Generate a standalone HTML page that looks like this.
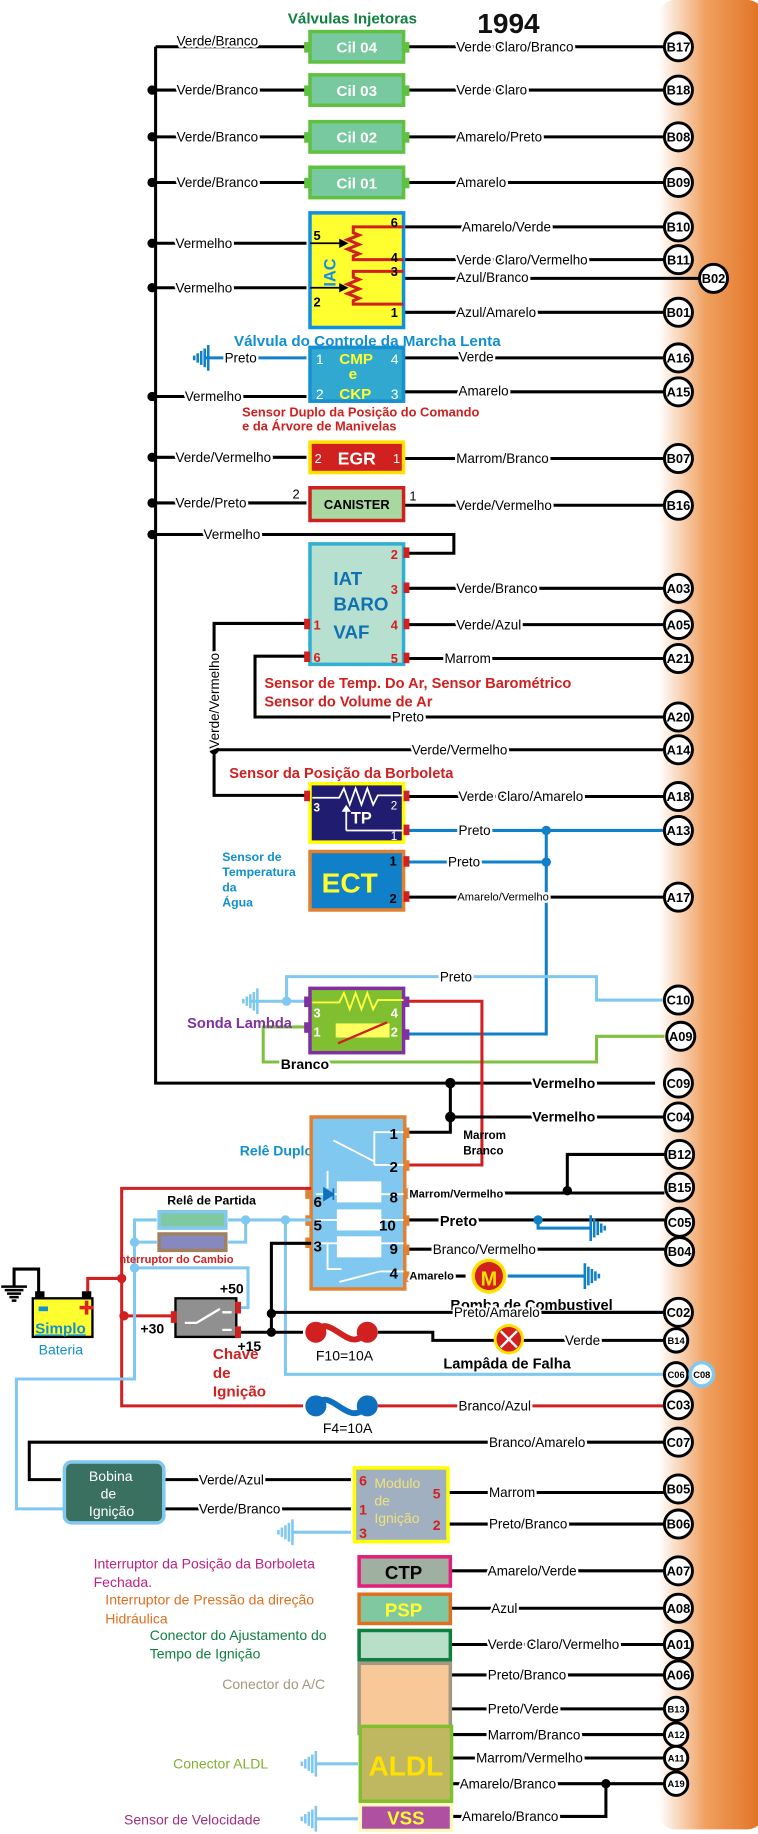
<!DOCTYPE html>
<html><head><meta charset="utf-8"><style>
html,body{margin:0;padding:0;background:#fff;width:758px;height:1834px;overflow:hidden}
svg{display:block}
text{font-family:"Liberation Sans",sans-serif}
.l{font-size:11.5px;fill:#000;paint-order:stroke;stroke:#fff;stroke-width:4px;stroke-linejoin:round}
.c{font-size:11px;font-weight:bold;text-anchor:middle}
.w{fill:none;stroke:#000;stroke-width:2.6}
.lb{fill:none;stroke:#80c8f0;stroke-width:2.6}
.db{fill:none;stroke:#1080c8;stroke-width:2.6}
.rd{fill:none;stroke:#d02020;stroke-width:2.6}
.pn{font-size:11px;font-weight:bold}
</style></head><body>
<svg width="758" height="1834" viewBox="0 0 648 1568" xmlns="http://www.w3.org/2000/svg">
<defs>
<linearGradient id="og" x1="0" x2="1" y1="0" y2="0">
<stop offset="0" stop-color="#fff"/><stop offset="0.45" stop-color="#f0a060"/><stop offset="1" stop-color="#e07020"/></linearGradient>
<g id="gnd"><path d="M0 -11V11M3 -8V8M6 -6V6M9 -4V4M12 -2V2" stroke-width="2.2" fill="none"/></g>
</defs>
<rect x="0" y="0" width="648" height="1568" fill="#fff"/>
<rect x="563" y="0" width="90" height="1564" rx="14" fill="url(#og)"/>

<!-- Titles -->
<text x="246" y="20" font-size="13" font-weight="bold" fill="#108040">Válvulas Injetoras</text>
<text x="408" y="28" font-size="24" font-weight="bold" fill="#111">1994</text>

<!-- left bus -->
<path class="w" d="M133 40V926H560"/>
<path class="w" d="M133 40H262"/>
<g fill="#000">
<circle cx="130" cy="77" r="4"/><circle cx="130" cy="117" r="4"/><circle cx="130" cy="156" r="4"/>
<circle cx="130" cy="208" r="4"/><circle cx="130" cy="246" r="4"/><circle cx="130" cy="339" r="4"/>
<circle cx="130" cy="391" r="4"/><circle cx="130" cy="430" r="4"/><circle cx="130" cy="457" r="4"/>
</g>

<!-- Cil boxes -->
<g>
<path class="w" d="M133 77H262M133 117H262M133 156H262"/>
<path class="w" d="M345 40H568M345 77H568M345 117H568M345 156H568"/>
<g fill="#78c8a0" stroke="#60c040" stroke-width="3">
<rect x="265" y="27" width="80" height="26"/><rect x="265" y="64" width="80" height="26"/>
<rect x="265" y="104" width="80" height="26"/><rect x="265" y="143" width="80" height="26"/></g>
<g fill="#60c040"><rect x="260" y="36" width="5" height="9"/><rect x="345" y="36" width="5" height="9"/>
<rect x="260" y="73" width="5" height="9"/><rect x="345" y="73" width="5" height="9"/>
<rect x="260" y="113" width="5" height="9"/><rect x="345" y="113" width="5" height="9"/>
<rect x="260" y="152" width="5" height="9"/><rect x="345" y="152" width="5" height="9"/></g>
<g fill="#fff" font-size="13" font-weight="bold" text-anchor="middle">
<text x="305" y="45">Cil 04</text><text x="305" y="82">Cil 03</text><text x="305" y="122">Cil 02</text><text x="305" y="161">Cil 01</text></g>
<text class="l" x="151" y="39">Verde/Branco</text><text class="l" x="151" y="81">Verde/Branco</text>
<text class="l" x="151" y="121">Verde/Branco</text><text class="l" x="151" y="160">Verde/Branco</text>
<text class="l" x="390" y="44">Verde Claro/Branco</text><text class="l" x="390" y="81">Verde Claro</text>
<text class="l" x="390" y="121">Amarelo/Preto</text><text class="l" x="390" y="160">Amarelo</text>
</g>

<!-- IAC -->
<path class="w" d="M133 208H262M133 246H262M345 194H568M345 222H568M345 238H598M345 267H568"/>
<rect x="265" y="182" width="80" height="98" fill="#ffff30" stroke="#1090e0" stroke-width="3"/>
<path class="rd" d="M345 194H302V199l5 2-10 4 10 4-10 4 10 4-5 2V222H345M345 232H302V237l5 2-10 4 10 4-10 4 10 4-5 2V260H345"/>
<path d="M265 208H292M265 246H292" stroke="#000" stroke-width="1.5"/>
<path d="M290 204l8 4-8 4zM290 242l8 4-8 4z" fill="#000"/>
<text transform="translate(287 245) rotate(-90)" font-size="14" font-weight="bold" fill="#1090e0">IAC</text>
<g class="pn"><text x="268" y="205">5</text><text x="268" y="262">2</text><text x="334" y="194">6</text><text x="334" y="224">4</text><text x="334" y="236">3</text><text x="334" y="271">1</text></g>
<text class="l" x="150" y="212">Vermelho</text><text class="l" x="150" y="250">Vermelho</text>
<text class="l" x="395" y="198">Amarelo/Verde</text><text class="l" x="390" y="226">Verde Claro/Vermelho</text>
<text class="l" x="390" y="241">Azul/Branco</text><text class="l" x="390" y="271">Azul/Amarelo</text>
<text x="200" y="296" font-size="13" font-weight="bold" fill="#1090d0">Válvula do Controle da Marcha Lenta</text>

<!-- CMP -->
<path class="db" d="M175 306H262"/><g stroke="#1080c8"><use href="#gnd" transform="translate(178 306) scale(-1 1)"/></g>
<path class="w" d="M133 339H262M345 306H568M345 335H568"/>
<rect x="265" y="297" width="80" height="46" fill="#30a8d0" stroke="#1890d0" stroke-width="3"/>
<g font-size="13" font-weight="bold" fill="#ffff30"><text x="290" y="311">CMP</text><text x="298" y="324">e</text><text x="290" y="341">CKP</text></g>
<g font-size="12" fill="#fff"><text x="270" y="311">1</text><text x="270" y="341">2</text><text x="334" y="311">4</text><text x="334" y="341">3</text></g>
<text class="l" x="192" y="310">Preto</text><text class="l" x="158" y="343">Vermelho</text>
<text class="l" x="392" y="309">Verde</text><text class="l" x="392" y="338">Amarelo</text>
<text x="207" y="356" font-size="11" font-weight="bold" fill="#d02020">Sensor Duplo da Posição do Comando</text>
<text x="207" y="368" font-size="11" font-weight="bold" fill="#d02020">e da Árvore de Manivelas</text>

<!-- EGR / CANISTER -->
<path class="w" d="M133 391H262M345 392H568M133 430H262M345 432H568"/>
<rect x="265" y="378" width="80" height="26" fill="#d02020" stroke="#ffe000" stroke-width="3"/>
<text x="305" y="397" text-anchor="middle" font-size="15" font-weight="bold" fill="#fff">EGR</text>
<text x="269" y="396" font-size="11" fill="#fff">2</text><text x="336" y="396" font-size="11" fill="#fff">1</text>
<rect x="265" y="417" width="80" height="28" fill="#a8d8a0" stroke="#d02020" stroke-width="3"/>
<text x="305" y="435" text-anchor="middle" font-size="11" font-weight="bold">CANISTER</text>
<text x="250" y="426" font-size="11">2</text><text x="350" y="428" font-size="11">1</text>
<text class="l" x="150" y="395">Verde/Vermelho</text><text class="l" x="390" y="396">Marrom/Branco</text>
<text class="l" x="150" y="434">Verde/Preto</text><text class="l" x="390" y="436">Verde/Vermelho</text>

<!-- IAT -->
<path class="w" d="M133 457H388V473H345M345 503H568M345 534H568M345 563H568M265 561H218V613H568M265 533H183V680H262M183 641H568"/>
<circle cx="183" cy="641" r="4"/>
<rect x="265" y="465" width="80" height="103" fill="#b8e0d0" stroke="#30b0d0" stroke-width="3"/>
<g font-size="16" font-weight="bold" fill="#1070b0"><text x="285" y="500">IAT</text><text x="285" y="522">BARO</text><text x="285" y="546">VAF</text></g>
<g fill="#d02020"><rect x="345" y="468" width="5" height="9"/><rect x="345" y="498" width="5" height="9"/><rect x="345" y="529" width="5" height="9"/><rect x="345" y="558" width="5" height="9"/><rect x="260" y="529" width="5" height="9"/><rect x="260" y="557" width="5" height="9"/></g>
<g class="pn" fill="#d02020"><text x="334" y="478">2</text><text x="334" y="508">3</text><text x="334" y="538">4</text><text x="334" y="567">5</text><text x="268" y="538">1</text><text x="268" y="566">6</text></g>
<text class="l" x="174" y="461">Vermelho</text>
<text class="l" x="390" y="507">Verde/Branco</text><text class="l" x="390" y="538">Verde/Azul</text><text class="l" x="380" y="567">Marrom</text>
<text class="l" x="335" y="617">Preto</text><text class="l" x="352" y="645">Verde/Vermelho</text>
<text transform="translate(187 640) rotate(-90)" font-size="11.5" style="paint-order:stroke;stroke:#fff;stroke-width:4px">Verde/Vermelho</text>
<text x="226" y="588" font-size="12.5" font-weight="bold" fill="#d02020">Sensor de Temp. Do Ar, Sensor Barométrico</text>
<text x="226" y="604" font-size="12.5" font-weight="bold" fill="#d02020">Sensor do Volume de Ar</text>
<text x="196" y="665" font-size="12.5" font-weight="bold" fill="#d02020">Sensor da Posição da Borboleta</text>

<!-- TP / ECT -->
<path class="w" d="M345 681H568M345 767H568"/>
<path class="db" d="M345 710H568M345 737H467M467 707V884H345"/>
<circle cx="467" cy="710" r="4" fill="#1080c8"/><circle cx="467" cy="737" r="4" fill="#1080c8"/>
<rect x="265" y="670" width="80" height="50" fill="#201c70" stroke="#ffff00" stroke-width="3"/>
<path d="M267 682H290l4-8 5 14 5-14 5 14 5-14 5 14 4-8H345M296 710V692M345 710H296" stroke="#fff" stroke-width="1.5" fill="none"/>
<path d="M292 694l4-6 4 6z" fill="#fff"/>
<text x="300" y="704" font-size="14" font-weight="bold" fill="#fff">TP</text>
<g fill="#fff" font-size="10"><text x="268" y="694" font-weight="bold">3</text><text x="334" y="692">2</text><text x="334" y="718">1</text></g>
<g fill="#d02020"><rect x="260" y="676" width="5" height="9"/><rect x="345" y="676" width="5" height="9"/><rect x="345" y="705" width="5" height="9"/></g>
<rect x="265" y="728" width="80" height="50" fill="#1080c8" stroke="#e08030" stroke-width="3"/>
<text x="275" y="763" font-size="24" font-weight="bold" fill="#ffff30">ECT</text>
<g font-size="11" font-weight="bold"><text x="333" y="740">1</text><text x="333" y="772">2</text></g>
<g fill="#d02020"><rect x="345" y="732" width="5" height="9"/><rect x="345" y="762" width="5" height="9"/></g>
<text class="l" x="392" y="714">Preto</text><text class="l" x="383" y="741">Preto</text><text class="l" x="391" y="770" style="font-size:9.5px">Amarelo/Vermelho</text>
<text class="l" x="392" y="685">Verde Claro/Amarelo</text>
<g font-size="10.5" font-weight="bold" fill="#1090d0"><text x="190" y="736">Sensor de</text><text x="190" y="749">Temperatura</text><text x="190" y="762">da</text><text x="190" y="775">Água</text></g>

<!-- Lambda -->
<path class="lb" d="M215 856H262M245 856V835H510V855H568"/>
<circle cx="245" cy="856" r="4" fill="#80c8f0"/>
<g stroke="#80c8f0"><use href="#gnd" transform="translate(220 856) scale(-1 1)"/></g>
<path d="M262 878H225V908H510V886H568" fill="none" stroke="#80c040" stroke-width="2.6"/>
<path class="rd" d="M345 856H412V996H345"/>
<rect x="265" y="845" width="80" height="55" fill="#80c030" stroke="#8030a0" stroke-width="3"/>
<path d="M267 857H290l4-8 5 14 5-14 5 14 5-14 5 14 4-8H345" stroke="#ffff40" stroke-width="1.6" fill="none"/>
<rect x="287" y="875" width="46" height="12" fill="#ffff60"/><path d="M289 892L331 874" stroke="#d02020" stroke-width="2"/>
<g fill="#fff" font-size="11" font-weight="bold"><text x="268" y="870">3</text><text x="268" y="886">1</text><text x="334" y="870">4</text><text x="334" y="886">2</text></g>
<g fill="#8030a0"><rect x="260" y="852" width="5" height="9"/><rect x="260" y="874" width="5" height="9"/><rect x="345" y="852" width="5" height="9"/><rect x="345" y="880" width="5" height="9"/></g>
<text class="l" x="376" y="839">Preto</text>
<text class="l" x="240" y="914" style="font-weight:bold;font-size:12px">Branco</text>
<text x="160" y="879" font-size="12.5" font-weight="bold" fill="#8030a0">Sonda Lambda</text>

<!-- C09 / C04 -->
<path class="w" d="M385 926V968H345M385 955H568"/>
<circle cx="385" cy="926" r="4.5"/><circle cx="385" cy="955" r="4.5"/>
<text class="l" x="455" y="930" style="font-weight:bold;font-size:12px">Vermelho</text>
<text class="l" x="455" y="959" style="font-weight:bold;font-size:12px">Vermelho</text>
<g font-size="10" font-weight="bold"><text x="396" y="974">Marrom</text><text x="396" y="987">Branco</text></g>

<!-- Relay -->
<text x="205" y="988" font-size="12" font-weight="bold" fill="#1090d0">Relê Duplo</text>
<path class="w" d="M345 1020H568M485 1020V987H568M345 1043H568M345 1068H568M345 1091H398M432 1122H568"/>
<circle cx="485" cy="1018" r="4"/>
<path class="db" d="M460 1043V1050H505M434 1091H500"/>
<circle cx="460" cy="1043" r="4" fill="#1080c8"/>
<g stroke="#1080c8"><use href="#gnd" transform="translate(505 1050)"/><use href="#gnd" transform="translate(500 1091)"/></g>
<rect x="266" y="955" width="80" height="147" fill="#80c8f0" stroke="#e08030" stroke-width="3"/>
<g fill="#fff"><rect x="288" y="1010" width="38" height="18"/><rect x="288" y="1034" width="38" height="18"/><rect x="288" y="1057" width="38" height="18"/></g>
<path d="M270 1021H345M270 1043H345M270 1063H345M320 996V968H345M320 996H345M285 975L320 993M280 1001V1016M280 1063V1085H292M290 1096L325 1087H345" stroke="#fff" stroke-width="1.6" fill="none"/>
<path d="M277 1016l8 5-8 5zM285 1016V1026" fill="#1070c0" stroke="#1070c0" stroke-width="1.5"/>
<g fill="#e08030"><rect x="345" y="964" width="5" height="9"/><rect x="345" y="992" width="5" height="9"/><rect x="345" y="1016" width="5" height="9"/><rect x="345" y="1039" width="5" height="9"/><rect x="345" y="1064" width="5" height="9"/><rect x="345" y="1087" width="5" height="9"/><rect x="261" y="1016" width="5" height="9"/><rect x="261" y="1039" width="5" height="9"/><rect x="261" y="1058" width="5" height="9"/></g>
<g font-size="13" font-weight="bold"><text x="333" y="974">1</text><text x="333" y="1002">2</text><text x="333" y="1028">8</text><text x="324" y="1052">10</text><text x="333" y="1072">9</text><text x="333" y="1093">4</text><text x="268" y="1032">6</text><text x="268" y="1052">5</text><text x="268" y="1070">3</text></g>
<text class="l" x="350" y="1024" style="font-weight:bold;font-size:9.5px">Marrom/Vermelho</text>
<text class="l" x="376" y="1048" style="font-weight:bold;font-size:12.5px">Preto</text>
<text class="l" x="370" y="1072">Branco/Vermelho</text>
<text class="l" x="350" y="1094" style="font-weight:bold;font-size:9.5px">Amarelo</text>
<circle cx="418" cy="1091" r="15" fill="#ffe000"/><circle cx="418" cy="1091" r="12" fill="#d02020"/>
<text x="418" y="1099" text-anchor="middle" font-size="17" font-weight="bold" fill="#ffe000">M</text>
<text x="385" y="1120" font-size="12.5" font-weight="bold">Bomba de Combustivel</text>

<!-- left power area -->
<path class="rd" d="M266 1016H104V1202H259M323 1202H568M75 1110V1093H104M108 1125H150"/>
<circle cx="104" cy="1093" r="4" fill="#d02020"/><circle cx="106" cy="1125" r="4" fill="#d02020"/>
<path class="w" d="M33 1110V1085H12V1100"/>
<g stroke="#000"><use href="#gnd" transform="translate(12 1100) rotate(90)"/></g>
<rect x="28" y="1110" width="51" height="33" fill="#ffff30" stroke="#000" stroke-width="2"/>
<rect x="30" y="1104" width="8" height="6"/><rect x="70" y="1104" width="8" height="6"/>
<rect x="33" y="1117" width="8" height="4" fill="#1090d0"/>
<path d="M68 1118h12M74 1112v12" stroke="#e02020" stroke-width="3"/>
<text x="30" y="1140" font-size="13" font-weight="bold" fill="#1090d0" text-decoration="underline">Simplo</text>
<text x="33" y="1158" font-size="12" fill="#1090d0">Bateria</text>

<path class="lb" d="M266 1043H195M134 1043H115V1179H14V1290H55M115 1062H134M195 1062H210V1043M115 1084H212V1118H202M244 1043V1175H568"/>
<circle cx="210" cy="1043" r="4" fill="#80c8f0"/><circle cx="244" cy="1043" r="4" fill="#80c8f0"/>
<circle cx="115" cy="1062" r="4" fill="#80c8f0"/><circle cx="115" cy="1084" r="4" fill="#80c8f0"/>
<rect x="136" y="1036" width="57" height="14" fill="#80c8a0" stroke="#80c8f0" stroke-width="3"/>
<rect x="136" y="1055" width="57" height="14" fill="#8888c0" stroke="#a08060" stroke-width="3"/>
<text x="143" y="1030" font-size="10.5" font-weight="bold">Relê de Partida</text>
<text x="102" y="1080" font-size="9.5" font-weight="bold" fill="#d02020">nterruptor do Cambio</text>

<path class="w" d="M266 1063H232V1139H202M232 1122H568M232 1139H259M323 1139H370V1146H423M447 1146H568"/>
<circle cx="232" cy="1123" r="4"/><circle cx="232" cy="1139" r="4"/>
<rect x="150" y="1110" width="52" height="33" fill="#909090" stroke="#000" stroke-width="2"/>
<path d="M158 1131H168L188 1119M190 1122H198M190 1137H198" stroke="#fff" stroke-width="2" fill="none"/>
<g fill="#d02020"><rect x="146" y="1121" width="5" height="10"/><rect x="201" y="1113" width="5" height="10"/><rect x="201" y="1134" width="5" height="10"/></g>
<g font-size="12" font-weight="bold"><text x="188" y="1106">+50</text><text x="120" y="1140">+30</text><text x="203" y="1155">+15</text></g>
<g font-size="13" font-weight="bold" fill="#d02020"><text x="182" y="1162">Chave</text><text x="182" y="1178">de</text><text x="182" y="1194">Ignição</text></g>

<!-- fuses -->
<path d="M271 1139C280 1120 300 1160 312 1139" stroke="#d02020" stroke-width="5" fill="none"/>
<circle cx="270" cy="1139" r="9" fill="#d02020"/><circle cx="314" cy="1139" r="9" fill="#d02020"/>
<text x="270" y="1163" font-size="12">F10=10A</text>
<path d="M271 1202C280 1183 300 1223 312 1202" stroke="#1070c0" stroke-width="5" fill="none"/>
<circle cx="270" cy="1202" r="9" fill="#1070c0"/><circle cx="314" cy="1202" r="9" fill="#1070c0"/>
<text x="276" y="1225" font-size="12">F4=10A</text>
<text class="l" x="388" y="1126">Preto/Amarelo</text>
<text class="l" x="392" y="1206">Branco/Azul</text>
<circle cx="435" cy="1145" r="13" fill="#ffe000"/><circle cx="435" cy="1145" r="10.5" fill="#d02020"/>
<path d="M428 1138l14 14M442 1138l-14 14" stroke="#fff" stroke-width="2"/>
<text class="l" x="483" y="1150">Verde</text>
<text x="379" y="1170" font-size="12.5" font-weight="bold">Lampâda de Falha</text>

<!-- C07 / bobina / modulo -->
<path class="w" d="M568 1233H25V1265H52M140 1265H300M140 1290H300M383 1276H568M383 1303H568"/>
<text class="l" x="418" y="1237">Branco/Amarelo</text>
<rect x="55" y="1250" width="85" height="52" rx="6" fill="#3a7060" stroke="#80c8f0" stroke-width="3"/>
<g fill="#fff" font-size="12"><text x="76" y="1266">Bobina</text><text x="86" y="1281">de</text><text x="76" y="1296">Ignição</text></g>
<text class="l" x="170" y="1269">Verde/Azul</text><text class="l" x="170" y="1294">Verde/Branco</text>
<path class="lb" d="M250 1310H300"/><g stroke="#80c8f0"><use href="#gnd" transform="translate(250 1310) scale(-1 1)"/></g>
<rect x="303" y="1255" width="80" height="63" fill="#a0b0c0" stroke="#ffff00" stroke-width="3"/>
<g fill="#f0e080" font-size="12"><text x="320" y="1272">Modulo</text><text x="320" y="1287">de</text><text x="320" y="1302">Ignição</text></g>
<g font-size="12" font-weight="bold" fill="#d02020"><text x="307" y="1270">6</text><text x="307" y="1295">1</text><text x="307" y="1315">3</text><text x="370" y="1281">5</text><text x="370" y="1308">2</text></g>
<text class="l" x="418" y="1280">Marrom</text><text class="l" x="418" y="1307">Preto/Branco</text>

<!-- lower connectors -->
<path class="w" d="M385 1343H568M385 1375H568M385 1406H568M385 1432H568M385 1461H568M386 1483H568M386 1503H568M386 1525H568M386 1553H518V1525"/>
<circle cx="518" cy="1525" r="4"/>
<rect x="307" y="1331" width="78" height="25" fill="#a0b0a0" stroke="#e0207a" stroke-width="3"/>
<text x="345" y="1350" text-anchor="middle" font-size="16" font-weight="bold">CTP</text>
<rect x="307" y="1363" width="78" height="25" fill="#80c8a0" stroke="#e07020" stroke-width="3"/>
<text x="345" y="1382" text-anchor="middle" font-size="16" font-weight="bold" fill="#ffff30">PSP</text>
<rect x="307" y="1394" width="78" height="25" fill="#b8e0c8" stroke="#108040" stroke-width="3"/>
<rect x="307" y="1422" width="78" height="60" fill="#f8c898" stroke="#a09880" stroke-width="3"/>
<rect x="308" y="1476" width="78" height="64" fill="#c0b860" stroke="#80c030" stroke-width="3"/>
<text x="347" y="1518" text-anchor="middle" font-size="24" font-weight="bold" fill="#ffe000">ALDL</text>
<rect x="308" y="1543" width="78" height="22" fill="#b050a0" stroke="#fff8c0" stroke-width="3"/>
<text x="347" y="1560" text-anchor="middle" font-size="16" font-weight="bold" fill="#ffff30">VSS</text>
<path class="lb" d="M270 1508H306M270 1555H306"/>
<g stroke="#80c8f0"><use href="#gnd" transform="translate(270 1508) scale(-1 1)"/><use href="#gnd" transform="translate(270 1555) scale(-1 1)"/></g>
<text class="l" x="417" y="1347">Amarelo/Verde</text><text class="l" x="420" y="1379">Azul</text>
<text class="l" x="417" y="1410">Verde Claro/Vermelho</text><text class="l" x="417" y="1436">Preto/Branco</text>
<text class="l" x="417" y="1465">Preto/Verde</text><text class="l" x="417" y="1487">Marrom/Branco</text>
<text class="l" x="407" y="1507">Marrom/Vermelho</text><text class="l" x="393" y="1529">Amarelo/Branco</text>
<text class="l" x="395" y="1557">Amarelo/Branco</text>
<g font-size="12"><text x="80" y="1341" fill="#c02080">Interruptor da Posição da Borboleta</text><text x="80" y="1357" fill="#c02080">Fechada.</text>
<text x="90" y="1372" fill="#e07020">Interruptor de Pressão da direção</text><text x="90" y="1388" fill="#e07020">Hidráulica</text>
<text x="128" y="1402" fill="#108040">Conector do Ajustamento do</text><text x="128" y="1418" fill="#108040">Tempo de Ignição</text>
<text x="190" y="1444" fill="#a09880">Conector do A/C</text>
<text x="148" y="1512" fill="#80b030">Conector ALDL</text>
<text x="106" y="1560" fill="#a03080">Sensor de Velocidade</text></g>

<!-- connector circles -->
<g fill="#fff" stroke="#000" stroke-width="2.5">
<circle cx="580" cy="40" r="12"/><circle cx="580" cy="77" r="12"/><circle cx="580" cy="117" r="12"/><circle cx="580" cy="156" r="12"/>
<circle cx="580" cy="194" r="12"/><circle cx="580" cy="222" r="12"/><circle cx="610" cy="238" r="12"/><circle cx="580" cy="267" r="12"/>
<circle cx="580" cy="306" r="12"/><circle cx="580" cy="335" r="12"/><circle cx="580" cy="392" r="12"/><circle cx="580" cy="432" r="12"/>
<circle cx="580" cy="503" r="12"/><circle cx="580" cy="534" r="12"/><circle cx="580" cy="563" r="12"/><circle cx="580" cy="613" r="12"/>
<circle cx="580" cy="641" r="12"/><circle cx="580" cy="681" r="12"/><circle cx="580" cy="710" r="12"/><circle cx="580" cy="767" r="12"/>
<circle cx="580" cy="855" r="12"/><circle cx="582" cy="886" r="12"/><circle cx="580" cy="926" r="12"/><circle cx="580" cy="955" r="12"/>
<circle cx="581" cy="987" r="12"/><circle cx="581" cy="1015" r="12"/><circle cx="581" cy="1045" r="12"/><circle cx="581" cy="1070" r="12"/>
<circle cx="580" cy="1122" r="12"/><circle cx="578" cy="1146" r="10"/><circle cx="578" cy="1175" r="10"/><circle cx="580" cy="1201" r="12"/>
<circle cx="580" cy="1233" r="12"/><circle cx="580" cy="1273" r="12"/><circle cx="580" cy="1303" r="12"/>
<circle cx="580" cy="1343" r="12"/><circle cx="580" cy="1375" r="12"/><circle cx="580" cy="1406" r="12"/><circle cx="580" cy="1432" r="12"/>
<circle cx="578" cy="1461" r="10"/><circle cx="578" cy="1483" r="10"/><circle cx="578" cy="1503" r="10"/><circle cx="578" cy="1525" r="10"/>
</g>
<circle cx="600" cy="1175" r="10" fill="#fff" stroke="#80c8f0" stroke-width="3"/>
<g class="c">
<text x="580" y="44">B17</text><text x="580" y="81">B18</text><text x="580" y="121">B08</text><text x="580" y="160">B09</text>
<text x="580" y="198">B10</text><text x="580" y="226">B11</text><text x="610" y="242">B02</text><text x="580" y="271">B01</text>
<text x="580" y="310">A16</text><text x="580" y="339">A15</text><text x="580" y="396">B07</text><text x="580" y="436">B16</text>
<text x="580" y="507">A03</text><text x="580" y="538">A05</text><text x="580" y="567">A21</text><text x="580" y="617">A20</text>
<text x="580" y="645">A14</text><text x="580" y="685">A18</text><text x="580" y="714">A13</text><text x="580" y="771">A17</text>
<text x="580" y="859">C10</text><text x="582" y="890">A09</text><text x="580" y="930">C09</text><text x="580" y="959">C04</text>
<text x="581" y="991">B12</text><text x="581" y="1019">B15</text><text x="581" y="1049">C05</text><text x="581" y="1074">B04</text>
<text x="580" y="1126">C02</text><text x="580" y="1205">C03</text><text x="580" y="1237">C07</text><text x="580" y="1277">B05</text>
<text x="580" y="1307">B06</text><text x="580" y="1347">A07</text><text x="580" y="1379">A08</text><text x="580" y="1410">A01</text><text x="580" y="1436">A06</text>
</g>
<g class="c" style="font-size:8px">
<text x="578" y="1149">B14</text><text x="578" y="1178">C06</text><text x="600" y="1178">C08</text>
<text x="578" y="1464">B13</text><text x="578" y="1486">A12</text><text x="578" y="1506">A11</text><text x="578" y="1528">A19</text>
</g>
</svg>
</body></html>
